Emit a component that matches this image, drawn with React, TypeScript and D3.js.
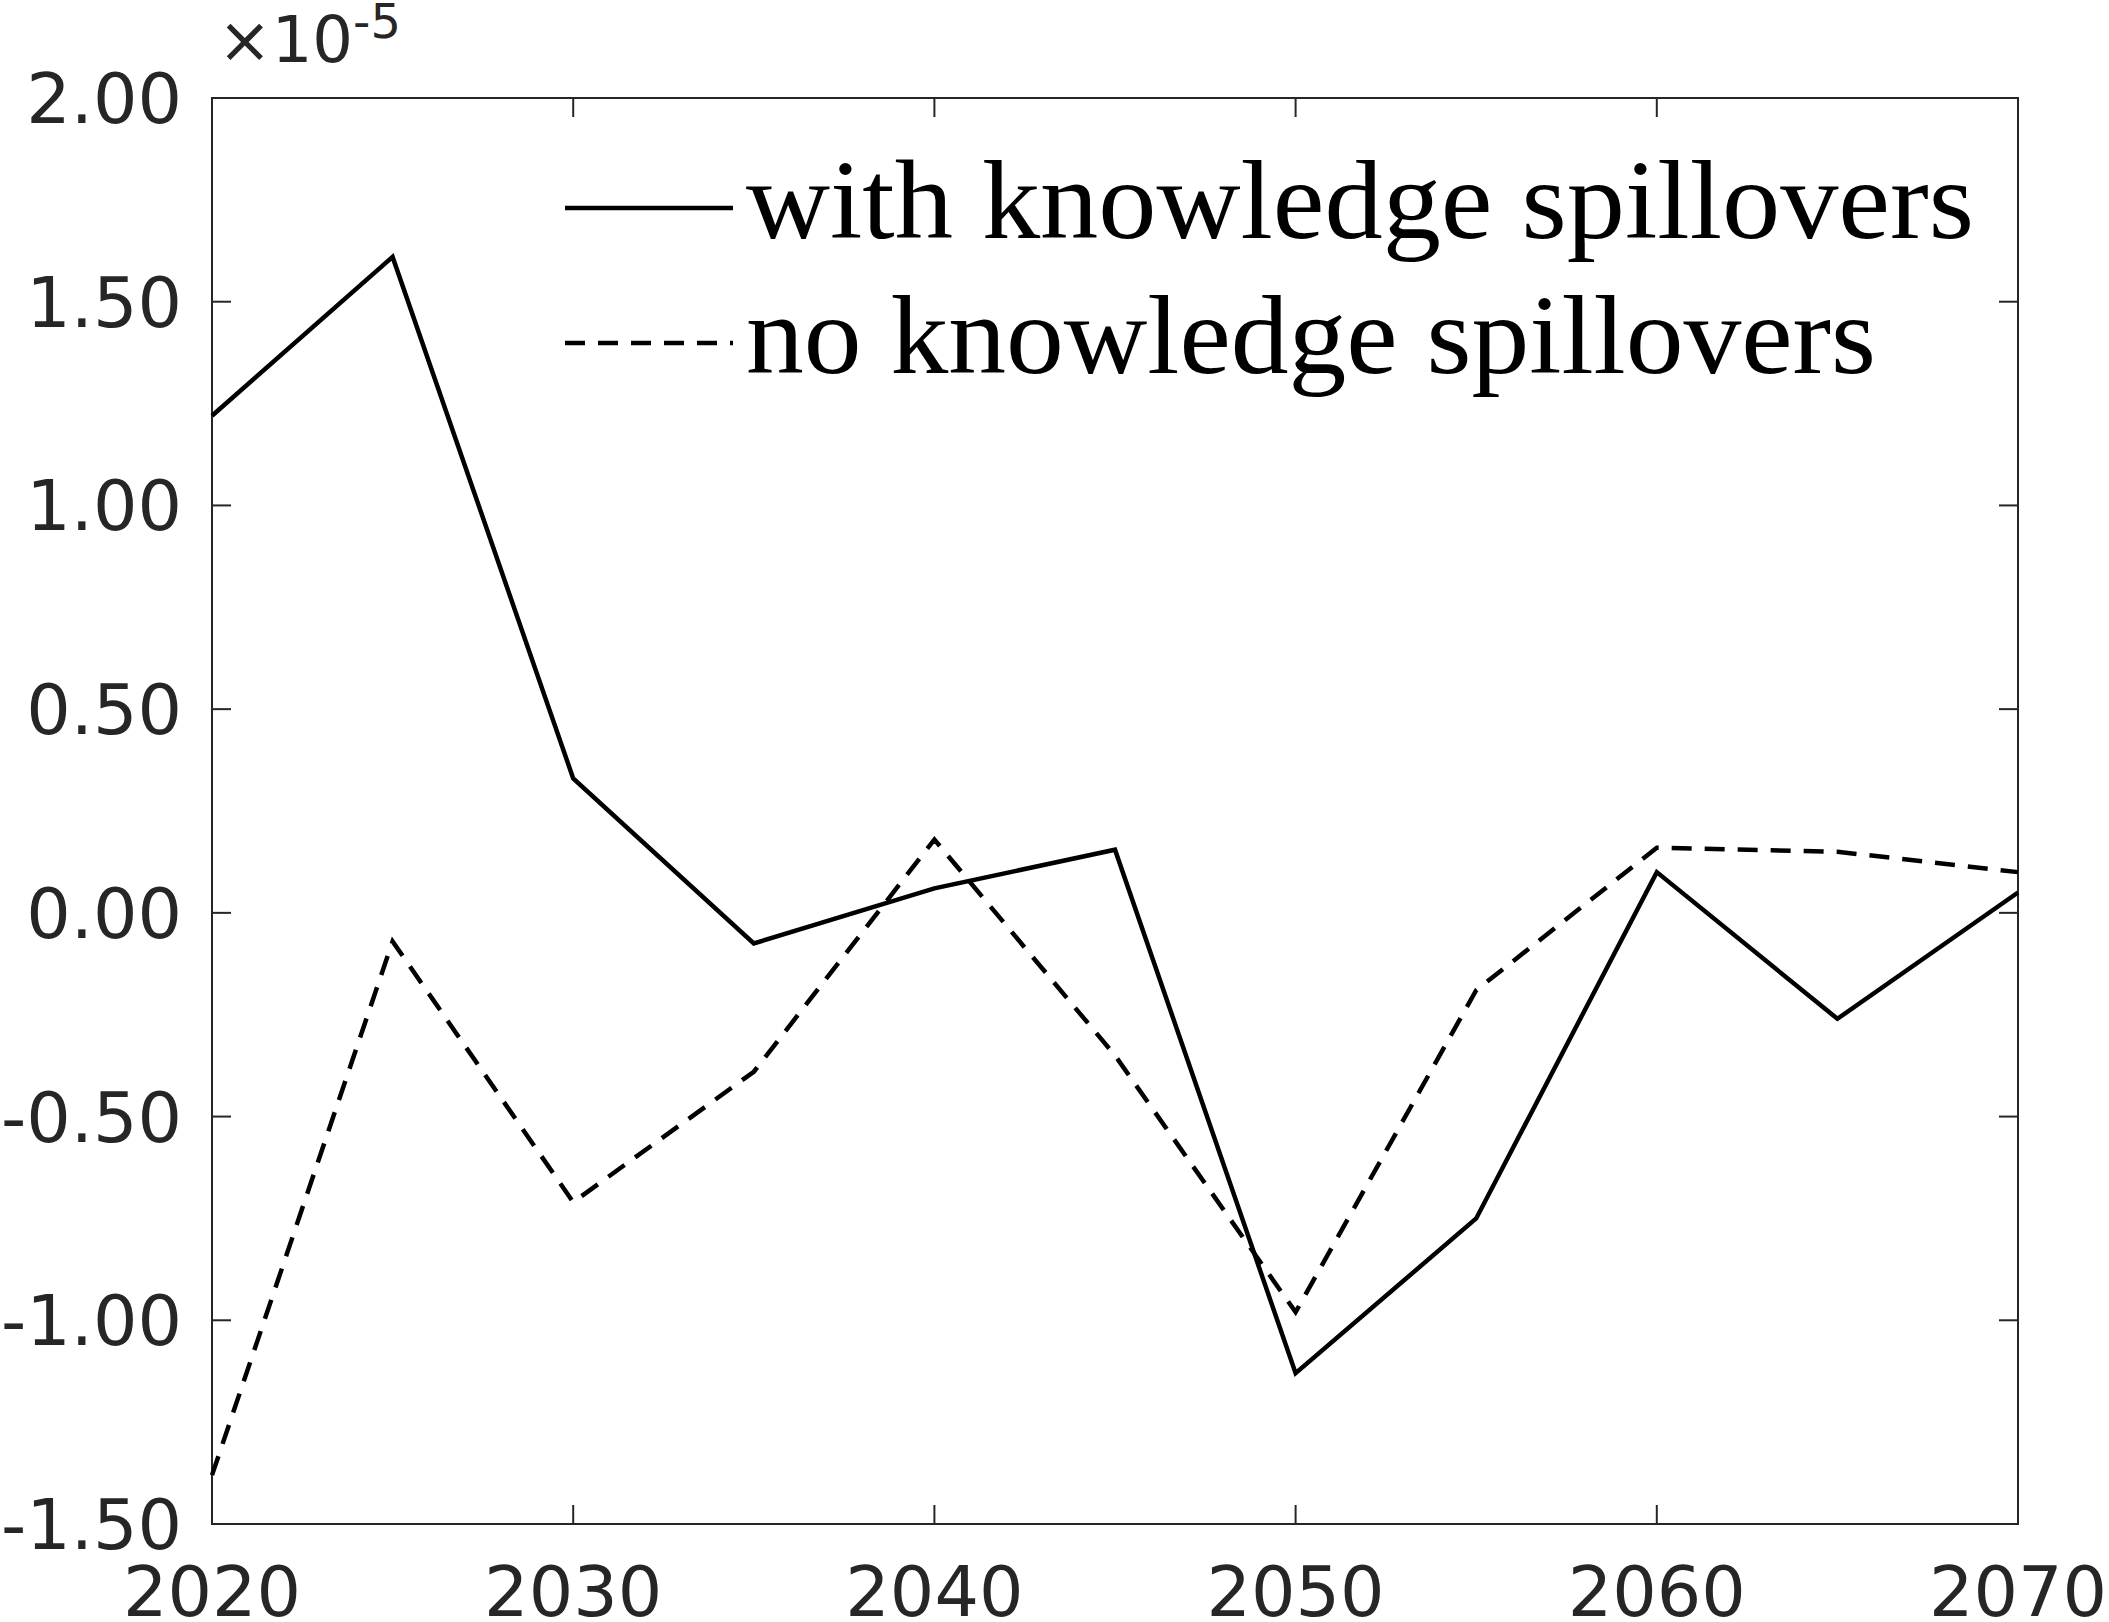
import React from "react";
import * as d3 from "d3";

const years = [2020, 2025, 2030, 2035, 2040, 2045, 2050, 2055, 2060, 2065, 2070];
const withSpill = [1.22, 1.61, 0.33, -0.075, 0.06, 0.155, -1.13, -0.75, 0.1, -0.26, 0.05];
const noSpill = [-1.38, -0.07, -0.71, -0.39, 0.18, -0.35, -0.98, -0.19, 0.16, 0.15, 0.1];
const xTicks = [2020, 2030, 2040, 2050, 2060, 2070];
const yTicks = [-1.5, -1.0, -0.5, 0, 0.5, 1.0, 1.5, 2.0];
const legendLabels = ["with knowledge spillovers", "no knowledge spillovers"];

const W = 2109, H = 1622;
const m = { left: 212, right: 2018, top: 98, bottom: 1524 };

export default function App() {
  const x = d3.scaleLinear().domain([2020, 2070]).range([m.left, m.right]);
  const y = d3.scaleLinear().domain([-1.5, 2.0]).range([m.bottom, m.top]);
  const line = d3.line<number>().x((_, i) => x(years[i])).y((d) => y(d));
  const tick = 19;
  const sans = "'DejaVu Sans', sans-serif";
  const serif = "'Liberation Serif', 'DejaVu Serif', serif";
  return (
    <svg width={W} height={H} style={{ position: "absolute", left: 0, top: 0, background: "#fff" }}>
      <rect x={m.left} y={m.top} width={m.right - m.left} height={m.bottom - m.top} fill="none" stroke="#262626" strokeWidth={2} />
      {xTicks.map((t) => (
        <g key={t}>
          <line x1={x(t)} x2={x(t)} y1={m.bottom} y2={m.bottom - tick} stroke="#262626" strokeWidth={2} />
          <line x1={x(t)} x2={x(t)} y1={m.top} y2={m.top + tick} stroke="#262626" strokeWidth={2} />
          <text x={x(t)} y={1616} textAnchor="middle" fontFamily={sans} fontSize={70} fill="#262626">{t}</text>
        </g>
      ))}
      {yTicks.map((t) => (
        <g key={t}>
          <line x1={m.left} x2={m.left + tick} y1={y(t)} y2={y(t)} stroke="#262626" strokeWidth={2} />
          <line x1={m.right} x2={m.right - tick} y1={y(t)} y2={y(t)} stroke="#262626" strokeWidth={2} />
          <text x={182} y={y(t) + 25} textAnchor="end" fontFamily={sans} fontSize={70} fill="#262626">{t.toFixed(2)}</text>
        </g>
      ))}
      <text x={218} y={62} fontFamily={sans} fontSize={64} fill="#262626">
        ×10<tspan dy={-24} fontSize={48}>-5</tspan>
      </text>
      <path d={line(noSpill) ?? ""} fill="none" stroke="#000" strokeWidth={4.5} strokeDasharray="20 13" />
      <path d={line(withSpill) ?? ""} fill="none" stroke="#000" strokeWidth={4.5} />
      {legendLabels.map((l, i) => (
        <g key={l}>
          <line x1={565} x2={733} y1={208 + i * 135} y2={208 + i * 135} stroke="#000" strokeWidth={4.5} strokeDasharray={i ? "20 13" : undefined} />
          <text x={746} y={238 + i * 135} fontFamily={serif} fontSize={112} fill="#000" textLength={i ? 1130 : 1228} lengthAdjust="spacingAndGlyphs">{l}</text>
        </g>
      ))}
    </svg>
  );
}
